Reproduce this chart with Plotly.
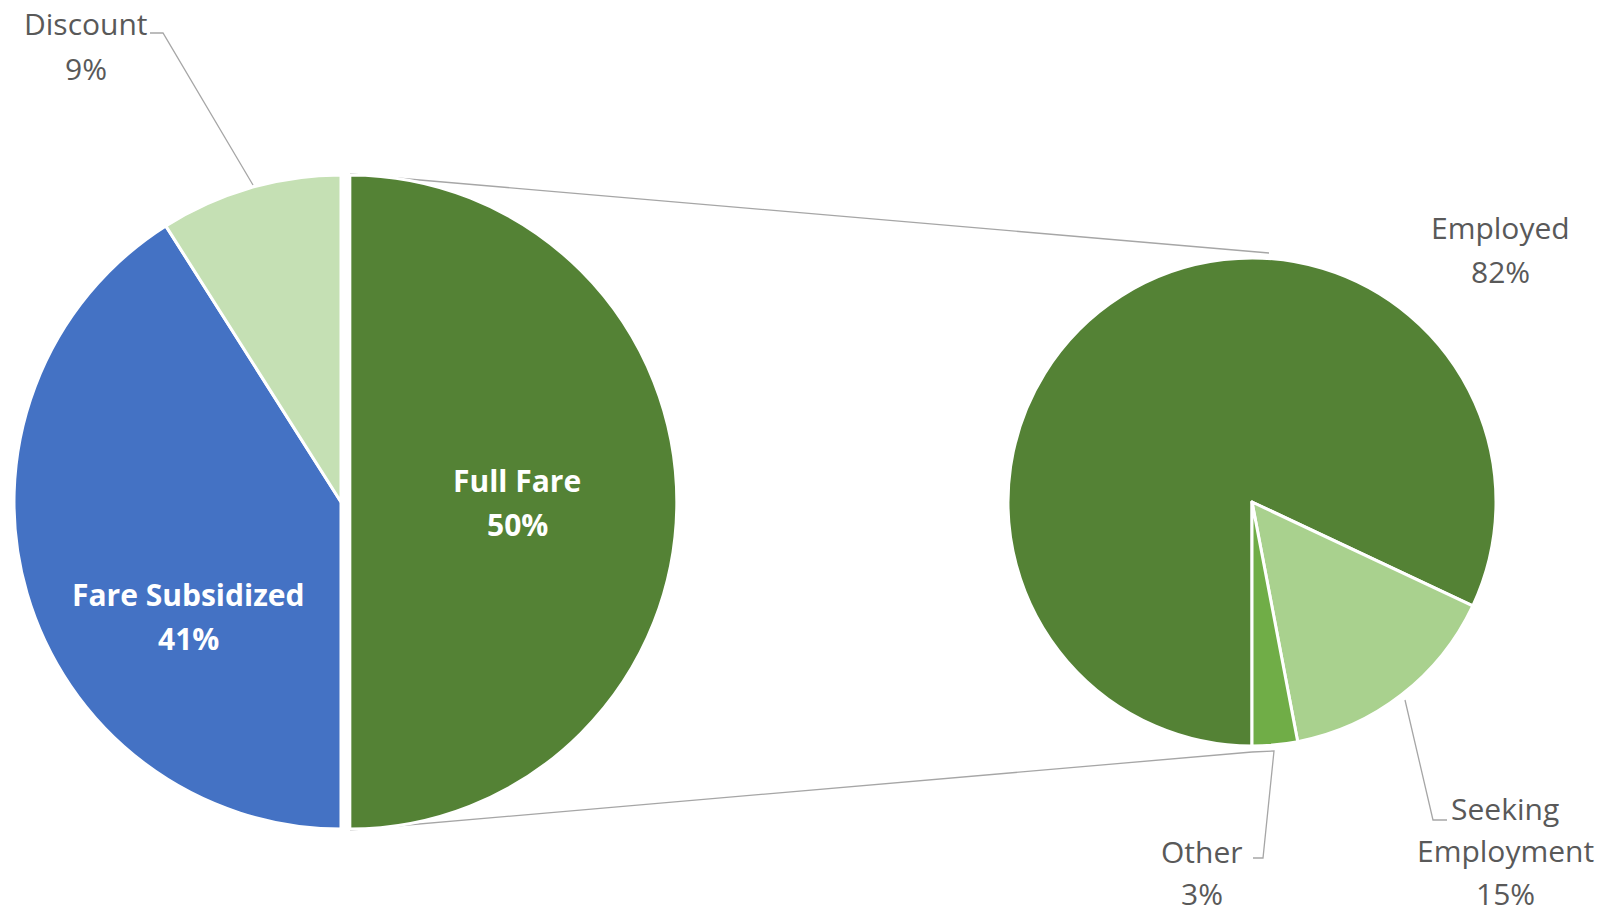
import plotly.graph_objects as go

W, H = 1607, 916

# Fare type split (primary pie)
fare_labels = ["Full Fare", "Fare Subsidized", "Discount"]
fare_values = [50, 41, 9]
fare_colors = ["#548235", "#4472C4", "#C5E0B4"]

# Breakdown of the Full Fare slice (secondary pie)
status_labels = ["Employed", "Seeking Employment", "Other"]
status_values = [82, 15, 3]
status_colors = ["#548235", "#A9D18E", "#70AD47"]

FONT = "'Open Sans', Lato, sans-serif"
GREY = "#595959"
LINE = "#A6A6A6"

# pie geometry in pixels (centre x, centre y from top, radius)
LEFT = (341, 502, 327)
RIGHT = (1252, 502, 244)
PULL = 0.027


def domain(cx, cy, r, pull=0.0):
    half = r * (1 + pull)
    return dict(x=[(cx - half) / W, (cx + half) / W],
                y=[1 - (cy + half) / H, 1 - (cy - half) / H])


def px(x, y):
    return x / W, 1 - y / H


fig = go.Figure()

fig.add_trace(go.Pie(
    labels=fare_labels, values=fare_values, sort=False,
    direction="clockwise", rotation=0,
    pull=[PULL, 0, 0],
    marker=dict(colors=fare_colors, line=dict(color="white", width=3)),
    textinfo="none", hoverinfo="label+percent", showlegend=False,
    domain=domain(*LEFT, pull=PULL),
))

fig.add_trace(go.Pie(
    labels=status_labels, values=status_values, sort=False,
    direction="clockwise", rotation=180,
    marker=dict(colors=status_colors, line=dict(color="white", width=3)),
    textinfo="none", hoverinfo="label+percent", showlegend=False,
    domain=domain(*RIGHT),
))

# label placement: (x centre, y of first line, line step, inside?)
label_pos = {
    "Full Fare": (517, 480, 44.5, True),
    "Fare Subsidized": (188, 594, 44.5, True),
    "Discount": (86, 24, 44.5, False),
    "Employed": (1500, 227, 44.5, False),
    "Seeking Employment": (1505, 808, 42.5, False),
    "Other": (1202, 851, 42, False),
}
line_breaks = {"Seeking Employment": ["Seeking", "Employment"]}

annotations = []
for names, vals in ((fare_labels, fare_values), (status_labels, status_values)):
    for name, v in zip(names, vals):
        x0, y0, step, inside = label_pos[name]
        lines = line_breaks.get(name, [name]) + [f"{v}%"]
        for i, t in enumerate(lines):
            ax, ay = px(x0, y0 + i * step)
            annotations.append(dict(
                x=ax, y=ay, xref="paper", yref="paper",
                xanchor="center", yanchor="middle", showarrow=False,
                text=f"<b>{t}</b>" if inside else t,
                font=dict(family=FONT, size=30,
                          color="white" if inside else GREY),
            ))

# connector lines between the pies and leader lines to outside labels
paths = [
    [(350, 174), (1269, 253)],
    [(350, 830), (1252, 752)],
    [(253, 185), (163, 33), (150, 33)],
    [(1252, 752), (1274, 751), (1263, 858), (1253, 858)],
    [(1405, 700), (1433, 820), (1447, 820)],
]
shapes = []
for pts in paths:
    d = "M " + " L ".join(f"{px(x, y)[0]:.5f},{px(x, y)[1]:.5f}" for x, y in pts)
    shapes.append(dict(type="path", path=d, xref="paper", yref="paper",
                       line=dict(color=LINE, width=1.3), layer="below"))

fig.update_layout(
    width=W, height=H,
    margin=dict(l=0, r=0, t=0, b=0),
    paper_bgcolor="white", plot_bgcolor="white",
    annotations=annotations, shapes=shapes,
)

fig.write_html("out.html")
